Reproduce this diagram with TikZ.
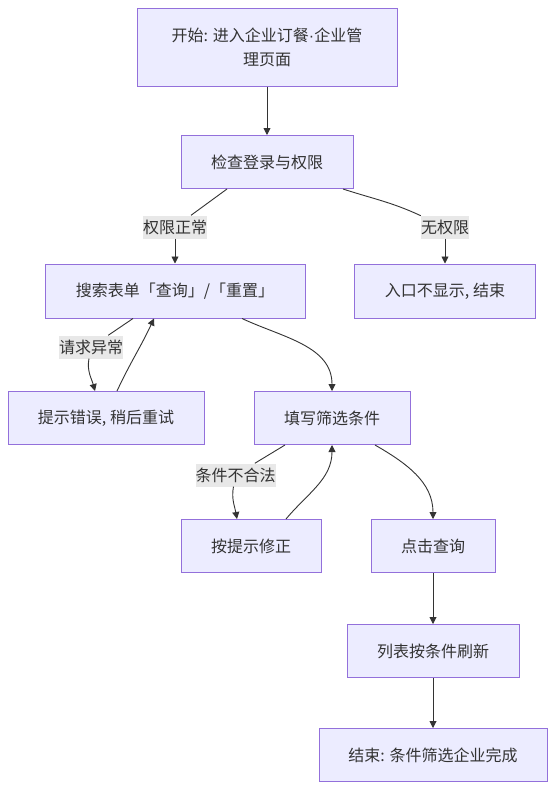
\documentclass[tikz,border=0pt]{standalone}
\usepackage{fontspec}
\setmainfont{Noto Sans CJK SC}
\newfontfamily\latinfont{Liberation Sans}
\usetikzlibrary{arrows.meta}
\definecolor{boxfill}{HTML}{ECECFF}
\definecolor{boxline}{HTML}{9370DB}
\definecolor{ink}{HTML}{333333}
\definecolor{lblfill}{HTML}{E8E8E8}

\begin{document}
\begin{tikzpicture}[x=1pt,y=1pt,
    font=\fontsize{16}{24}\selectfont,
    box/.style={draw=boxline,fill=boxfill,line width=1pt,text=ink,align=center,inner sep=0pt},
    lbl/.style={fill=lblfill,text=ink,inner sep=0pt,minimum height=23pt},
    link/.style={draw=ink,line width=0.9pt},
    flow/.style={link,-{Triangle[length=7pt,width=7pt]}}]
        % Page frame
        \useasboundingbox[fill=white] (0,0) rectangle (555,-790);
        % Draw the steps
        \node[box,minimum width=260pt,minimum height=78pt] (start) at (267,-47) {开始: 进入企业订餐{\latinfont ·}企业管\\理页面};
        \node[box,minimum width=172pt,minimum height=53pt] (check) at (267,-162) {检查登录与权限};
        \node[box,minimum width=260pt,minimum height=54pt] (search) at (175,-291) {搜索表单「查询」/「重置」};
        \node[box,minimum width=181pt,minimum height=54pt] (noaccess) at (445,-291) {入口不显示, 结束};
        \node[box,minimum width=196pt,minimum height=53pt] (error) at (106,-418) {提示错误, 稍后重试};
        \node[box,minimum width=156pt,minimum height=53pt] (fill) at (332,-418) {填写筛选条件};
        \node[box,minimum width=140pt,minimum height=53pt] (fix) at (251,-546) {按提示修正};
        \node[box,minimum width=124pt,minimum height=53pt] (click) at (433,-546) {点击查询};
        \node[box,minimum width=172pt,minimum height=53pt] (refresh) at (433,-651) {列表按条件刷新};
        \node[box,minimum width=228pt,minimum height=53pt] (finish) at (433,-755) {结束: 条件筛选企业完成};
        % Edge labels
        \node[lbl] (lblok) at (175,-227) {权限正常};
        \node[lbl] (lblno) at (445,-227) {无权限};
        \node[lbl] (lblerr) at (91,-347) {请求异常};
        \node[lbl] (lblbad) at (235.5,-475) {条件不合法};
        % Straight links
        \draw[flow] (start) -- (check);
        \draw[flow] (click) -- (refresh);
        \draw[flow] (refresh) -- (finish);
        % Branches after the check
        \draw[link] ([xshift=-40pt]check.south) -- (lblok);
        \draw[flow] (lblok) -- (search);
        \draw[link] ([xshift=76pt]check.south) to[out=-18,in=155] (lblno);
        \draw[flow] (lblno) -- (noaccess);
        % Retry loop
        \draw[link] ([xshift=-42pt]search.south) -- (lblerr);
        \draw[flow] (lblerr) to[out=-100,in=105] ([xshift=-11pt]error.north);
        \draw[flow] ([xshift=11pt]error.north) to[out=65,in=-115] ([xshift=-21pt]search.south);
        \draw[flow] ([xshift=67pt]search.south) to[out=-25,in=90] (fill.north);
        % Fix loop
        \draw[link] ([xshift=-47pt]fill.south) -- (lblbad);
        \draw[flow] (lblbad) to[out=-100,in=100] ([xshift=-14pt]fix.north);
        \draw[flow] ([xshift=35pt]fix.north) to[out=50,in=-90] (fill.south);
        \draw[flow] ([xshift=43pt]fill.south) to[out=-30,in=90] (click.north);
    \end{tikzpicture}
\end{document}
